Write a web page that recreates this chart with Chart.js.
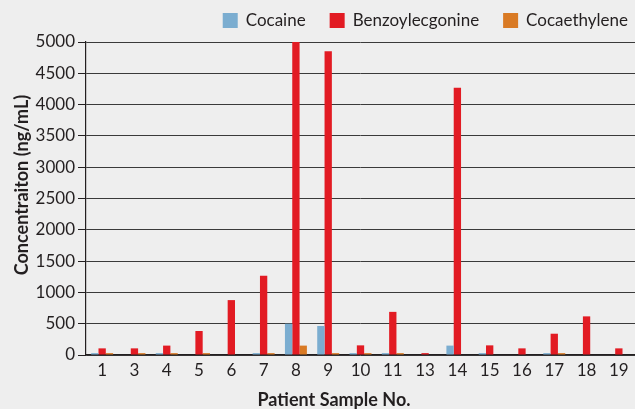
<!DOCTYPE html>
<html>
<head>
<meta charset="utf-8">
<script src="https://cdn.jsdelivr.net/npm/chart.js@4.4.1/dist/chart.umd.min.js"></script>
<style>
  html, body { margin: 0; padding: 0; background: #eeeeee; }
  #wrap { width: 635px; height: 409px; position: relative; }
</style>
</head>
<body>
<div id="wrap"><canvas id="c" width="635" height="409"></canvas></div>
<script>
const categories = ['1','3','4','5','6','7','8','9','10','11','13','14','15','16','17','18','19'];
const cocaine = [30, 0, 30, 0, 0, 30, 500, 463, 30, 30, 0, 150, 30, 0, 30, 0, 0];
const benzoylecgonine = [106, 106, 150, 383, 877, 1266, 5000, 4851, 154, 689, 30, 4268, 154, 106, 340, 617, 106];
const cocaethylene = [30, 30, 30, 30, 0, 30, 150, 30, 30, 30, 0, 0, 0, 0, 30, 0, 0];
const yTicks = [0, 500, 1000, 1500, 2000, 2500, 3000, 3500, 4000, 4500, 5000];
const xTitle = 'Patient Sample No.';
const yTitle = 'Concentraiton (ng/mL)';

const FONT = 'Lato, "Noto Sans", sans-serif';
const TEXT = '#231f20';

const bgPlugin = {
  id: 'bg',
  beforeDraw(chart) {
    const ctx = chart.ctx;
    ctx.save();
    ctx.fillStyle = '#eeeeee';
    ctx.fillRect(0, 0, chart.width, chart.height);
    ctx.restore();
  }
};

const legendPlugin = {
  id: 'customLegend',
  afterDraw(chart) {
    const ctx = chart.ctx;
    ctx.save();
    ctx.font = '17px ' + FONT;
    ctx.textBaseline = 'middle';
    const box = 15, gap = 8, itemGap = 24, right = 628, yTop = 13;
    const items = chart.data.datasets.map(d => ({ label: d.label, color: d.backgroundColor, w: ctx.measureText(d.label).width }));
    let total = items.reduce((s, it) => s + box + gap + it.w, 0) + itemGap * (items.length - 1);
    let x = right - total;
    items.forEach(it => {
      ctx.fillStyle = it.color;
      ctx.fillRect(x, yTop, box, box);
      ctx.fillStyle = TEXT;
      ctx.fillText(it.label, x + box + gap, yTop + box / 2 + 0.5);
      x += box + gap + it.w + itemGap;
    });
    ctx.restore();
  }
};

const titlesPlugin = {
  id: 'axisTitles',
  afterDraw(chart) {
    const ctx = chart.ctx;
    ctx.save();
    ctx.font = 'bold 18px ' + FONT;
    ctx.fillStyle = TEXT;
    ctx.textAlign = 'center';
    ctx.textBaseline = 'alphabetic';
    ctx.fillText(xTitle, 334, 406);
    ctx.translate(28, 185);
    ctx.rotate(-Math.PI / 2);
    ctx.fillText(yTitle, 0, 0);
    ctx.restore();
  }
};

new Chart(document.getElementById('c'), {
  type: 'bar',
  data: {
    labels: categories,
    datasets: [
      { label: 'Cocaine', data: cocaine, backgroundColor: '#7badd0' },
      { label: 'Benzoylecgonine', data: benzoylecgonine, backgroundColor: '#e21b23' },
      { label: 'Cocaethylene', data: cocaethylene, backgroundColor: '#d97a24' }
    ]
  },
  options: {
    responsive: false,
    animation: false,
    devicePixelRatio: 1,
    layout: { padding: { top: 42, left: 0, right: 0, bottom: 0 } },
    datasets: { bar: { categoryPercentage: 0.68, barPercentage: 1.0 } },
    plugins: { legend: { display: false }, tooltip: { enabled: false } },
    scales: {
      x: {
        grid: { display: false, drawTicks: false },
        border: { display: true, color: '#231f20', width: 1.2 },
        ticks: { color: TEXT, font: { family: FONT, size: 17 }, padding: 5, maxRotation: 0, autoSkip: false },
        title: { display: false, text: xTitle },
        afterFit(scale) { scale.height = 54; }
      },
      y: {
        min: 0, max: 5000,
        afterBuildTicks(scale) { scale.ticks = yTicks.map(v => ({ value: v })); },
        grid: { color: '#3a3a3a', lineWidth: 1, tickLength: 8, tickColor: '#231f20' },
        border: { display: true, color: '#231f20', width: 1.2 },
        ticks: { color: TEXT, font: { family: FONT, size: 17 }, padding: 3, callback: v => String(v) },
        title: { display: false, text: yTitle },
        afterFit(scale) { scale.width = 86; }
      }
    }
  },
  plugins: [bgPlugin, legendPlugin, titlesPlugin]
});
</script>
</body>
</html>
